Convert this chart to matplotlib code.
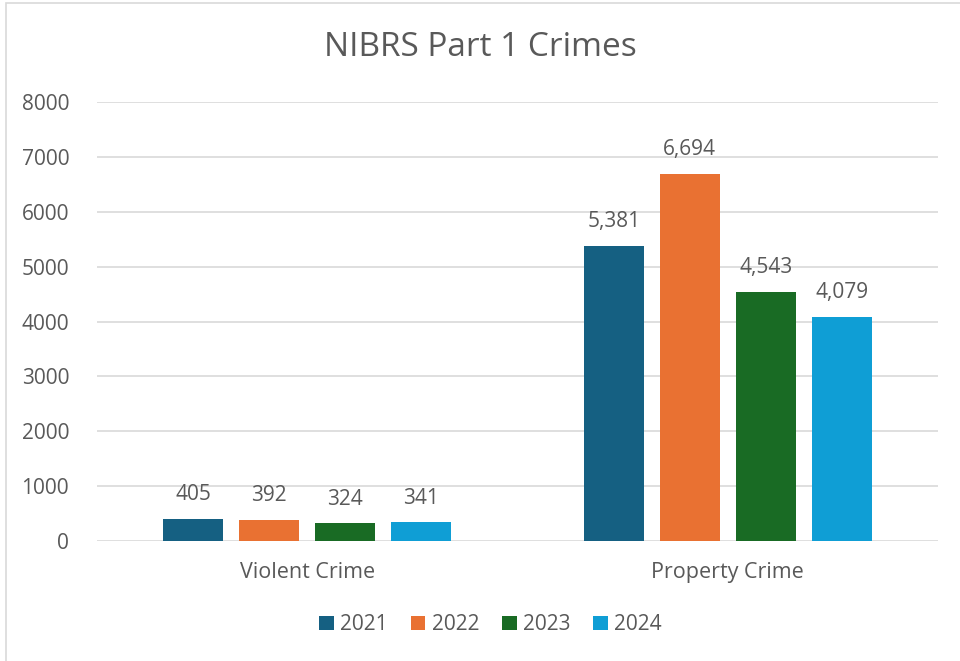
import numpy as np
import matplotlib.pyplot as plt
from matplotlib.patches import Rectangle

categories = ["Violent Crime", "Property Crime"]
years = ["2021", "2022", "2023", "2024"]
values = {
    "2021": [405, 5381],
    "2022": [392, 6694],
    "2023": [324, 4543],
    "2024": [341, 4079],
}
colors = ["#156082", "#E97132", "#196B24", "#0F9ED5"]
yticks = [0, 1000, 2000, 3000, 4000, 5000, 6000, 7000, 8000]

plt.rcParams['font.family'] = ['Open Sans', 'DejaVu Sans']
text_color = "#595959"

fig = plt.figure(figsize=(9.6, 6.61), dpi=100)
ax = fig.add_axes([0.101, 0.1815, 0.876, 0.6642])

# light frame of the chart area (cropped at right/bottom)
fig.patches.append(Rectangle((6 / 960, -0.1), 1.2, 1.1 - 3 / 661,
                             transform=fig.transFigure, fill=False,
                             edgecolor="#D9D9D9", linewidth=1.2))

x = np.arange(len(categories))
width = 0.1427
step = 0.1807
for i, (yr, col) in enumerate(zip(years, colors)):
    pos = x + (i - 1.5) * step
    bars = ax.bar(pos, values[yr], width=width, color=col, label=yr, zorder=3)
    for b, v in zip(bars, values[yr]):
        ax.text(b.get_x() + b.get_width() / 2, v + 250, f"{v:,}",
                ha="center", va="bottom", fontsize=15, color=text_color)

ax.set_xlim(-0.5, 1.5)
ax.set_ylim(0, 8000)
ax.set_yticks(yticks)
ax.set_yticklabels([str(t) for t in yticks], fontsize=15, color=text_color)
ax.set_xticks(x)
ax.set_xticklabels(categories, fontsize=15.5, color=text_color)
ax.tick_params(axis="y", length=0, pad=20)
ax.tick_params(axis="x", length=0, pad=15)
ax.grid(axis="y", color="#D9D9D9", linewidth=1.2, zorder=0)
for s in ax.spines.values():
    s.set_visible(False)

fig.text(0.5, 0.928, "NIBRS Part 1 Crimes", ha="center", va="center",
         fontsize=24, color=text_color)

fig.legend(loc="center", bbox_to_anchor=(0.511, 0.055), ncol=4, frameon=False,
           fontsize=15, labelcolor=text_color, handlelength=0.7, handleheight=0.7,
           handletextpad=0.3, columnspacing=1.1)

fig.savefig("out.png", dpi=100)
